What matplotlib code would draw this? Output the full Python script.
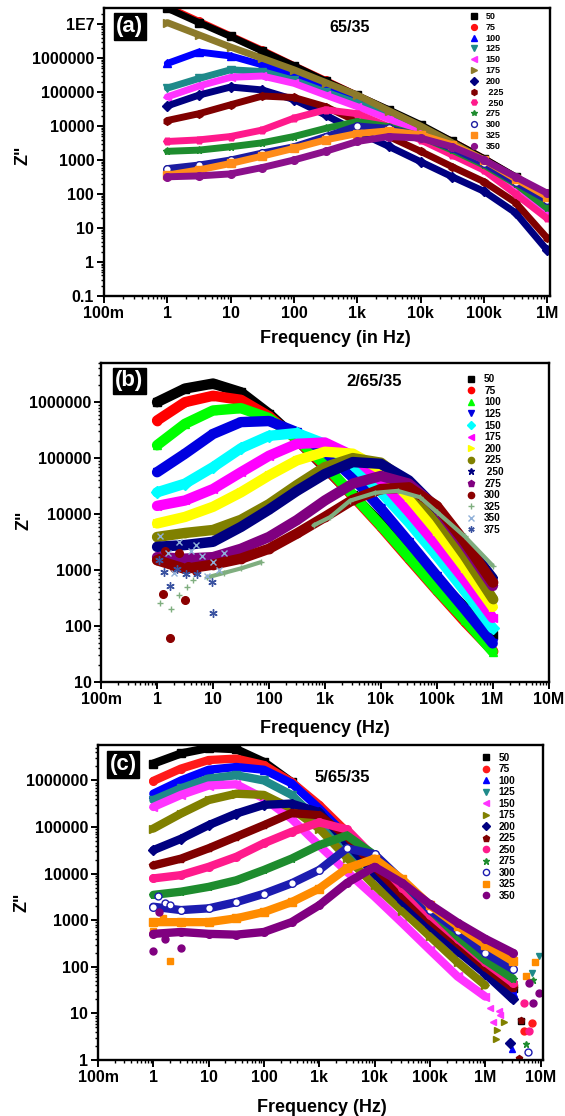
import numpy as np
import matplotlib
matplotlib.use("Agg")
import matplotlib.pyplot as plt
from matplotlib.lines import Line2D
from matplotlib.ticker import FixedLocator, FixedFormatter, LogLocator, NullFormatter

plt.rcParams['font.family'] = ['Liberation Sans', 'DejaVu Sans']
plt.rcParams['font.weight'] = 'bold'

# ---------------------------------------------------------------------------
# panel (a)  65/35
# ---------------------------------------------------------------------------
freq_a = [1, 3.16, 10, 31.6, 100, 316, 1e3, 3.16e3, 1e4, 3.16e4, 1e5, 3.16e5, 1e6]
labels_a = ['50', '75', '100', '125', '150', '175', '200', ' 225', ' 250', '275', '300', '325', '350']
a50 = [2.9e7, 1.1e7, 4.3e6, 1.6e6, 5.9e5, 2.1e5, 7.9e4, 3.0e4, 1.1e4, 3500, 1100, 320, 89]
a75 = [3.2e7, 1.2e7, 4.5e6, 1.7e6, 6.0e5, 2.2e5, 7.9e4, 2.9e4, 1.0e4, 3500, 1100, 310, 87]
a100 = [6.9e5, 1.5e6, 1.15e6, 6.3e5, 3.2e5, 1.45e5, 6.5e4, 2.5e4, 8900, 2800, 890, 250, 63]
a125 = [1.3e5, 2.5e5, 4.5e5, 4.0e5, 2.2e5, 1.0e5, 4.7e4, 2.0e4, 7900, 2500, 790, 220, 40]
a150 = [7.2e4, 1.5e5, 2.7e5, 2.95e5, 1.8e5, 8.1e4, 3.7e4, 1.6e4, 6300, 2000, 630, 180, 32]
a175 = [1.1e7, 4.8e6, 2.1e6, 9.8e5, 4.5e5, 1.9e5, 8.1e4, 2.8e4, 1.0e4, 3200, 1000, 280, 79]
a200 = [3.9e4, 8.1e4, 1.4e5, 1.15e5, 6.0e4, 2.1e4, 6800, 2500, 890, 320, 120, 28, 2.2]
a225 = [1.45e4, 2.3e4, 4.2e4, 7.6e4, 6.9e4, 3.7e4, 1.35e4, 4900, 1800, 630, 230, 56, 5.0]
a250 = [3500, 3900, 4900, 7600, 1.7e4, 3.0e4, 2.3e4, 9500, 3900, 1400, 500, 100, 19]
a275 = [1800, 1950, 2450, 3200, 4900, 8500, 1.35e4, 9500, 4900, 1950, 710, 200, 38]
a300 = [560, 710, 1000, 1600, 2450, 4900, 1.0e4, 8500, 4900, 2200, 790, 220, 66]
a325 = [360, 510, 790, 1300, 2200, 3900, 6000, 7200, 5500, 2800, 1000, 280, 83]
a350 = [320, 340, 390, 600, 1000, 1800, 3500, 4900, 4400, 2450, 1000, 320, 105]

# ---------------------------------------------------------------------------
# panel (b)  2/65/35
# ---------------------------------------------------------------------------
freq_b = [1, 3.16, 10, 31.6, 100, 316, 1e3, 3.16e3, 1e4, 3.16e4, 1e5, 3.16e5, 1e6]
labels_b = ['50', '75', '100', '125', '150', '175', '200', '225', ' 250', '275', '300', '325', '350', '375']
b50 = [1.0e6, 1.75e6, 2.15e6, 1.5e6, 6.2e5, 2.15e5, 6.8e4, 2.15e4, 6800, 2150, 680, 215, 68]
b75 = [4.7e5, 1.0e6, 1.3e6, 1.1e6, 5.6e5, 2.15e5, 7.1e4, 2.1e4, 6000, 1600, 430, 120, 36]
b100 = [1.7e5, 4.1e5, 7.1e5, 7.8e5, 5.2e5, 2.2e5, 7.6e4, 2.2e4, 6300, 1700, 450, 130, 35]
b125 = [5.6e4, 1.2e5, 2.7e5, 4.4e5, 4.6e5, 2.9e5, 1.3e5, 4.5e4, 1.26e4, 3200, 790, 200, 49]
b150 = [2.45e4, 3.5e4, 6.9e4, 1.5e5, 2.5e5, 2.8e5, 1.8e5, 7.6e4, 2.5e4, 7100, 1800, 420, 91]
b175 = [1.4e4, 1.75e4, 2.8e4, 5.6e4, 1.1e5, 1.8e5, 1.9e5, 1.1e5, 4.0e4, 1.1e4, 2800, 660, 140]
b200 = [6800, 8900, 1.35e4, 2.45e4, 4.9e4, 9.1e4, 1.3e5, 1.2e5, 6.3e4, 2.0e4, 5000, 1100, 220]
b225 = [3900, 4600, 5200, 7900, 1.5e4, 3.3e4, 6.9e4, 1.0e5, 8.3e4, 3.5e4, 8900, 1800, 310]
b250 = [2600, 2800, 3200, 5900, 1.2e4, 2.6e4, 5.2e4, 8.5e4, 7.9e4, 4.0e4, 1.26e4, 3200, 710]
b275 = [1700, 1600, 1700, 2400, 3900, 7800, 1.75e4, 3.5e4, 4.8e4, 3.5e4, 1.3e4, 2800, 520]
b300 = [1500, 1050, 1250, 1600, 2400, 4500, 8900, 1.8e4, 2.8e4, 3.0e4, 1.4e4, 3200, 600]
b300_out_f = [1.1, 1.26, 1.4, 1.7, 2.0, 2.5, 3.16, 3.5, 5.0]
b300_out_z = [1650, 380, 2200, 62, 1100, 2000, 295, 1200, 950]
b325_f = [7.94, 15.8, 31.6, 70.8, np.nan, 631, 1260, 2820, 7940, 2.0e4, 5.0e4, 1.0e5, 3.16e5, 1.0e6]
b325_z = [740, 890, 1070, 1380, np.nan, 6300, 8900, 1.74e4, 2.4e4, 2.6e4, 2.0e4, 1.1e4, 4000, 1200]
b325_sc_f = [1.15, 1.74, 2.45, 3.39, 4.47]
b325_sc_z = [257, 204, 355, 500, 660]
b350_f = [1.12, 1.58, 2.0, 2.51, 3.98, 5.01, 6.31, 7.94, 10, 12.6, 15.8]
b350_z = [4000, 2000, 890, 3200, 2200, 2800, 1800, 790, 1400, 1000, 2000]
b375_f = [1.07, 1.35, 1.7, 2.29, 3.31, 5.13, 9.77, 10.0]
b375_z = [1500, 910, 510, 1050, 850, 850, 620, 170]

# ---------------------------------------------------------------------------
# panel (c)  5/65/35
# ---------------------------------------------------------------------------
freq_c = [1, 3.16, 10, 31.6, 100, 316, 1e3, 3.16e3, 1e4, 3.16e4, 1e5, 3.16e5, 1e6, 3.16e6]
labels_c = ['50', '75', '100', '125', '150', '175', '200', '225', '250', '275', '300', '325', '350']
c50 = [2.3e6, 3.8e6, 5.0e6, 4.7e6, 2.5e6, 9.3e5, 2.6e5, 7.1e4, 2.0e4, 5600, 1600, 450, 126, 35]
c75 = [9.8e5, 1.8e6, 2.75e6, 2.95e6, 2.15e6, 9.3e5, 3.0e5, 7.9e4, 2.1e4, 5600, 1600, 450, 126, 40]
c100 = [5.2e5, 1.0e6, 1.7e6, 1.95e6, 1.7e6, 8.7e5, 2.5e5, 6.3e4, 1.8e4, 5000, 1400, 400, 112, 28]
c125 = [3.8e5, 6.8e5, 1.1e6, 1.3e6, 1.0e6, 4.9e5, 1.3e5, 3.5e4, 1.1e4, 3200, 950, 280, 100, 40]
c150 = [2.7e5, 4.9e5, 7.8e5, 8.3e5, 4.1e5, 1.5e5, 4.0e4, 1.1e4, 3200, 870, 230, 62, 23, np.nan]
c175 = [9.3e4, 1.95e5, 3.8e5, 5.2e5, 4.9e5, 2.5e5, 9.3e4, 2.2e4, 5600, 1600, 450, 126, 40, np.nan]
c200 = [3.2e4, 5.6e4, 1.1e5, 1.95e5, 3.0e5, 3.2e5, 2.1e5, 4.5e4, 1.0e4, 2600, 760, 220, 71, 20]
c225 = [1.5e4, 2.1e4, 3.5e4, 6.2e4, 1.1e5, 2.0e5, 1.8e5, 6.3e4, 1.4e4, 3500, 1000, 320, 100, 35]
c250 = [7900, 9300, 1.4e4, 2.3e4, 4.5e4, 7.9e4, 1.26e5, 8.9e4, 2.2e4, 5000, 1300, 400, 126, 45]
c275 = [3500, 4100, 5200, 7200, 1.2e4, 2.1e4, 4.1e4, 6.6e4, 2.5e4, 6600, 1700, 450, 140, 56]
c300 = [1950, 1650, 1800, 2450, 3700, 6200, 1.2e4, 3.5e4, 2.6e4, 7100, 1660, 600, 200, 89]
c325 = [910, 910, 910, 1100, 1500, 2450, 4800, 1.3e4, 2.1e4, 7600, 2100, 760, 300, 132]
c350 = [510, 560, 510, 490, 560, 910, 2100, 6300, 1.4e4, 6300, 2200, 890, 400, 200]
# scattered points at the ends of the sweep
c_tail_f = {'50': [4.5e6], '75': [5.1e6, 6.9e6], '100': [3.0e6], '125': [6.9e6, 9.5e6],
            '150': [1.23e6, 1.41e6, 1.74e6, 1.86e6], '175': [1.55e6, 1.66e6, 2.2e6],
            '200': [2.8e6], '225': [4.1e6, 4.4e6], '250': [5.1e6, 6.3e6],
            '275': [5.5e6, 7.4e6], '300': [5.9e6], '325': [5.5e6, 7.9e6],
            '350': [6.3e6, 7.4e6, 9.3e6]}
c_tail_z = {'50': [7], '75': [4.1, 6.2], '100': [1.7], '125': [72, 170],
            '150': [13, 6.6, 11, 9.1], '175': [2.8, 4.5, 6.6],
            '200': [2.3], '225': [1.1, 7.2], '250': [17, 4.1],
            '275': [2.2, 52], '300': [1.5], '325': [62, 130],
            '350': [45, 17, 27]}
c_low_f = {'300': [1.2, 1.6, 2.0], '325': [1.0, 2.0, 1.5], '350': [1.0, 1.25, 1.6, 3.1]}
c_low_z = {'300': [3300, 2300, 2100], '325': [590, 135, 1100], '350': [220, 1500, 390, 250]}

xt_vals = [0.1, 1, 10, 100, 1e3, 1e4, 1e5, 1e6, 1e7]
xt_text = ['100m', '1', '10', '100', '1k', '10k', '100k', '1M', '10M']
yt_a_vals = [0.1, 1, 10, 100, 1e3, 1e4, 1e5, 1e6, 1e7]
yt_a_text = ['0.1', '1', '10', '100', '1000', '10000', '100000', '1000000', '1E7']
yt_b_vals = [10, 100, 1e3, 1e4, 1e5, 1e6]
yt_b_text = ['10', '100', '1000', '10000', '100000', '1000000']
yt_c_vals = [1, 10, 100, 1e3, 1e4, 1e5, 1e6]
yt_c_text = ['1', '10', '100', '1000', '10000', '100000', '1000000']

# styles: colour, marker, face colour
sty_a = [('#000000', 's', None), ('#ff1010', 'o', None), ('#0000ff', '^', None),
         ('#1f8a8a', 'v', None), ('#ff33ff', '<', None), ('#8c7a2b', '>', None),
         ('#000080', 'D', None), ('#800000', 'h', None), ('#ff1a8c', 'H', None),
         ('#1e8c2e', '*', None), ('#1c1ca0', 'o', 'white'), ('#ff8c1a', 's', None),
         ('#8b108b', 'o', None)]
sty_b = [('#000000', 's', None), ('#ff0000', 'o', None), ('#00ff00', '^', None),
         ('#0000e0', 'v', None), ('#00ffff', 'D', None), ('#ff00ff', '<', None),
         ('#ffff00', '>', None), ('#808000', 'o', None), ('#000080', '*', None),
         ('#800080', 'p', None), ('#8b0000', 'o', None), ('#7fae7f', '+', None),
         ('#90b0d8', 'x', None), ('#3a52a0', (6, 2, 0), None)]
sty_c = [('#000000', 's', None), ('#ff1a1a', 'o', None), ('#0000ff', '^', None),
         ('#1f8a8a', 'v', None), ('#ff33ff', '<', None), ('#808000', '>', None),
         ('#000080', 'D', None), ('#800000', 'p', None), ('#ff1a8c', 'o', None),
         ('#1e8c2e', '*', None), ('#1c1cb0', 'o', 'white'), ('#ff8c00', 's', None),
         ('#800080', 'o', None)]


def band(ax, f, z, sty, lw, ms, zorder=2):
    col, mk, face = sty
    ax.plot(f, z, '-', color=col, lw=lw, marker=mk, ms=ms, mfc=face or col,
            mec=col, mew=1.0, zorder=zorder, solid_joinstyle='round',
            solid_capstyle='round')


def dots(ax, f, z, sty, ms, zorder=2):
    col, mk, face = sty
    ax.plot(f, z, ls='none', marker=mk, ms=ms, mfc=face or col, mec=col,
            mew=1.0, zorder=zorder)


def style_axes(ax, xlim, ylim, ytv, ytt, xlabel, xl_pos, yl_pos):
    ax.set_xscale('log')
    ax.set_yscale('log')
    ax.set_xlim(xlim)
    ax.set_ylim(ylim)
    ax.xaxis.set_major_locator(FixedLocator(xt_vals))
    ax.xaxis.set_major_formatter(FixedFormatter(xt_text))
    ax.yaxis.set_major_locator(FixedLocator(ytv))
    ax.yaxis.set_major_formatter(FixedFormatter(ytt))
    for axis in (ax.xaxis, ax.yaxis):
        axis.set_minor_locator(LogLocator(base=10, subs=np.arange(2, 10) * 1.0, numticks=60))
        axis.set_minor_formatter(NullFormatter())
    ax.tick_params(which='major', direction='out', length=5, width=1.4,
                   labelsize=11.5, pad=2, top=False, right=False)
    ax.tick_params(which='minor', direction='out', length=2.5, width=1.0,
                   top=False, right=False)
    for s in ax.spines.values():
        s.set_linewidth(1.7)
    ax.set_xlabel(xlabel, fontsize=13, fontweight='bold')
    ax.set_ylabel('Z"', fontsize=13, fontweight='bold')
    ax.xaxis.set_label_coords(*xl_pos)
    ax.yaxis.set_label_coords(*yl_pos)


def tag(ax, txt, x, y):
    ax.text(x, y, txt, transform=ax.transAxes, color='white', fontsize=16,
            fontweight='bold', ha='center', va='center', zorder=10,
            bbox=dict(boxstyle='square,pad=0.12', fc='black', ec='black'))


def add_legend(ax, labels, styles, anchor, fs, spacing, ms):
    handles = [Line2D([], [], ls='none', marker=mk, color=col, mfc=face or col,
                      mec=col, ms=ms, mew=1.0) for col, mk, face in styles]
    ax.legend(handles, labels, loc='upper left', bbox_to_anchor=anchor,
              frameon=False, handlelength=0.8, handletextpad=0.9,
              labelspacing=spacing, borderpad=0, borderaxespad=0,
              prop={'size': fs, 'weight': 'bold'})


fig = plt.figure(figsize=(5.65, 11.16), dpi=100)

# ---- (a) ----
ax = fig.add_axes([0.184, 0.7348, 0.789, 0.258])
series_a = [a50, a75, a100, a125, a150, a175, a200, a225, a250, a275, a300, a325, a350]
order_a = [1, 0, 2, 3, 4, 5, 6, 7, 8, 9, 10, 11, 12]
for i in order_a:
    band(ax, freq_a, series_a[i], sty_a[i], lw=5, ms=5.5)
style_axes(ax, (0.1, 1.095e6), (0.1, 2.95e7), yt_a_vals, yt_a_text,
           'Frequency (in Hz)', (0.52, -0.118), (-0.162, 0.49))
tag(ax, '(a)', 0.058, 0.936)
ax.text(0.551, 0.932, '65/35', transform=ax.transAxes, ha='center', va='center',
        fontsize=11.5, fontweight='bold')
add_legend(ax, labels_a, sty_a, (0.822, 0.986), 6.5, 0.2, 4.2)

# ---- (b) ----
ax = fig.add_axes([0.179, 0.3889, 0.792, 0.2858])
series_b = [b50, b75, b100, b125, b150, b175, b200, b225, b250, b275, b300]
for i, z in enumerate(series_b):
    band(ax, freq_b, z, sty_b[i], lw=7.5, ms=6)
dots(ax, b300_out_f, b300_out_z, sty_b[10], ms=5.5)
band(ax, b325_f, b325_z, sty_b[11], lw=3, ms=4.5)
dots(ax, b325_sc_f, b325_sc_z, sty_b[11], ms=5)
dots(ax, b350_f, b350_z, sty_b[12], ms=5)
dots(ax, b375_f, b375_z, sty_b[13], ms=6)
style_axes(ax, (0.1, 1e7), (10, 5.0e6), yt_b_vals, yt_b_text,
           'Frequency (Hz)', (0.50, -0.119), (-0.154, 0.508))
tag(ax, '(b)', 0.063, 0.944)
ax.text(0.611, 0.941, '2/65/35', transform=ax.transAxes, ha='center', va='center',
        fontsize=12, fontweight='bold')
add_legend(ax, labels_b, sty_b, (0.818, 0.965), 7.2, 0.16, 4.5)

# ---- (c) ----
ax = fig.add_axes([0.1735, 0.0502, 0.7876, 0.2823])
series_c = [c50, c75, c100, c125, c150, c175, c200, c225, c250, c275, c300, c325, c350]
for i, z in enumerate(series_c):
    band(ax, freq_c, z, sty_c[i], lw=6, ms=5.5)
    lab = labels_c[i]
    dots(ax, c_tail_f[lab], c_tail_z[lab], sty_c[i], ms=5)
    if lab in c_low_f:
        dots(ax, c_low_f[lab], c_low_z[lab], sty_c[i], ms=5)
style_axes(ax, (0.1, 1.11e7), (1, 5.8e6), yt_c_vals, yt_c_text,
           'Frequency (Hz)', (0.502, -0.124), (-0.151, 0.5))
tag(ax, '(c)', 0.056, 0.938)
ax.text(0.549, 0.897, '5/65/35', transform=ax.transAxes, ha='center', va='center',
        fontsize=12, fontweight='bold')
add_legend(ax, labels_c, sty_c, (0.862, 0.975), 7.2, 0.15, 4.5)

fig.savefig('out.png', dpi=100)
